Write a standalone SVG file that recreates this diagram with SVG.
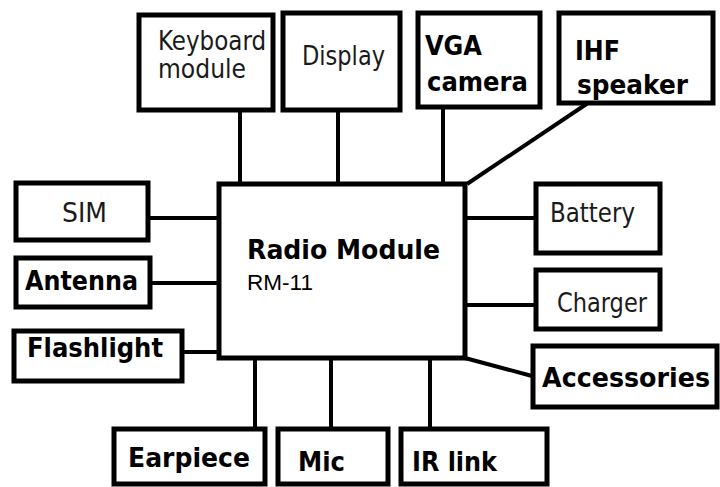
<svg xmlns="http://www.w3.org/2000/svg" width="720" height="487" viewBox="0 0 720 487">
<style>
.box{fill:#fff;stroke:#000;stroke-width:5}
.hub{fill:#fff;stroke:#000;stroke-width:5}
.ln{stroke:#000;stroke-width:4;fill:none}
.t{font-family:"DejaVu Sans Condensed","DejaVu Sans",sans-serif;font-size:27px;fill:#1a1a1a}
.b{font-family:"DejaVu Sans","Liberation Sans",sans-serif;font-weight:bold;font-size:26px;fill:#000}
.r{font-family:"Liberation Sans",Arial,sans-serif;font-size:22px;fill:#000}
</style>
<rect width="720" height="487" fill="#fff"/>
<g id="connectors">
<line class="ln" x1="240" y1="110" x2="240" y2="183"/>
<line class="ln" x1="338" y1="110" x2="338" y2="183"/>
<line class="ln" x1="443" y1="107" x2="443" y2="183"/>
<line class="ln" x1="588" y1="103" x2="467" y2="184"/>
<line class="ln" x1="148" y1="218" x2="218" y2="218"/>
<line class="ln" x1="150" y1="283" x2="218" y2="283"/>
<line class="ln" x1="183" y1="352" x2="218" y2="352"/>
<line class="ln" x1="465" y1="218" x2="535" y2="218"/>
<line class="ln" x1="465" y1="305" x2="535" y2="305"/>
<line class="ln" x1="465" y1="358" x2="532" y2="376"/>
<line class="ln" x1="255" y1="358" x2="255" y2="428"/>
<line class="ln" x1="331" y1="358" x2="331" y2="428"/>
<line class="ln" x1="430" y1="358" x2="430" y2="428"/>
</g>
<g id="radio-module">
<rect class="hub" x="219" y="184" width="246" height="174"/>
<text class="b" x="247" y="259" textLength="193" lengthAdjust="spacingAndGlyphs">Radio Module</text>
<text class="r" x="247" y="290" textLength="66" lengthAdjust="spacingAndGlyphs">RM-11</text>
</g>
<g id="keyboard">
<rect class="box" x="139" y="15" width="134" height="95"/>
<text class="t" x="158" y="50" font-size="22" textLength="108" lengthAdjust="spacingAndGlyphs">Keyboard</text>
<text class="t" x="158" y="78" font-size="22" textLength="88" lengthAdjust="spacingAndGlyphs">module</text>
</g>
<g id="display">
<rect class="box" x="283" y="13" width="117" height="97"/>
<text class="t" x="302" y="65" font-size="28" textLength="83" lengthAdjust="spacingAndGlyphs">Display</text>
</g>
<g id="vga-camera">
<rect class="box" x="418" y="13" width="122" height="94"/>
<text class="b" x="425" y="55" font-size="29" textLength="57" lengthAdjust="spacingAndGlyphs">VGA</text>
<text class="b" x="427" y="91" font-size="27" textLength="101" lengthAdjust="spacingAndGlyphs">camera</text>
</g>
<g id="ihf-speaker">
<rect class="box" x="559" y="13" width="154" height="90"/>
<text class="b" x="575" y="60" font-size="24" textLength="45" lengthAdjust="spacingAndGlyphs">IHF</text>
<text class="b" x="577" y="94" font-size="25" textLength="111" lengthAdjust="spacingAndGlyphs">speaker</text>
</g>
<g id="sim">
<rect class="box" x="16" y="183" width="132" height="57"/>
<text class="t" x="62" y="222" font-size="25" textLength="45" lengthAdjust="spacingAndGlyphs">SIM</text>
</g>
<g id="antenna">
<rect class="box" x="16" y="258" width="134" height="49"/>
<text class="b" x="25" y="290" font-size="27" textLength="113" lengthAdjust="spacingAndGlyphs">Antenna</text>
</g>
<g id="flashlight">
<rect class="box" x="14" y="331" width="168" height="50"/>
<text class="b" x="27" y="357" font-size="22" textLength="136" lengthAdjust="spacingAndGlyphs">Flashlight</text>
</g>
<g id="battery">
<rect class="box" x="536" y="184" width="124" height="69"/>
<text class="t" x="550" y="222" textLength="85" lengthAdjust="spacingAndGlyphs">Battery</text>
</g>
<g id="charger">
<rect class="box" x="536" y="270" width="124" height="59"/>
<text class="t" x="557" y="312" textLength="90" lengthAdjust="spacingAndGlyphs">Charger</text>
</g>
<g id="accessories">
<rect class="box" x="533" y="346" width="184" height="61"/>
<text class="b" x="542" y="387" font-size="27" textLength="168" lengthAdjust="spacingAndGlyphs">Accessories</text>
</g>
<g id="earpiece">
<rect class="box" x="114" y="429" width="151" height="55"/>
<text class="b" x="128" y="467" textLength="122" lengthAdjust="spacingAndGlyphs">Earpiece</text>
</g>
<g id="mic">
<rect class="box" x="278" y="429" width="110" height="55"/>
<text class="b" x="298" y="471" font-size="27" textLength="47" lengthAdjust="spacingAndGlyphs">Mic</text>
</g>
<g id="ir-link">
<rect class="box" x="401" y="429" width="146" height="55"/>
<text class="b" x="412" y="471" font-size="27" textLength="85" lengthAdjust="spacingAndGlyphs">IR link</text>
</g>
</svg>
